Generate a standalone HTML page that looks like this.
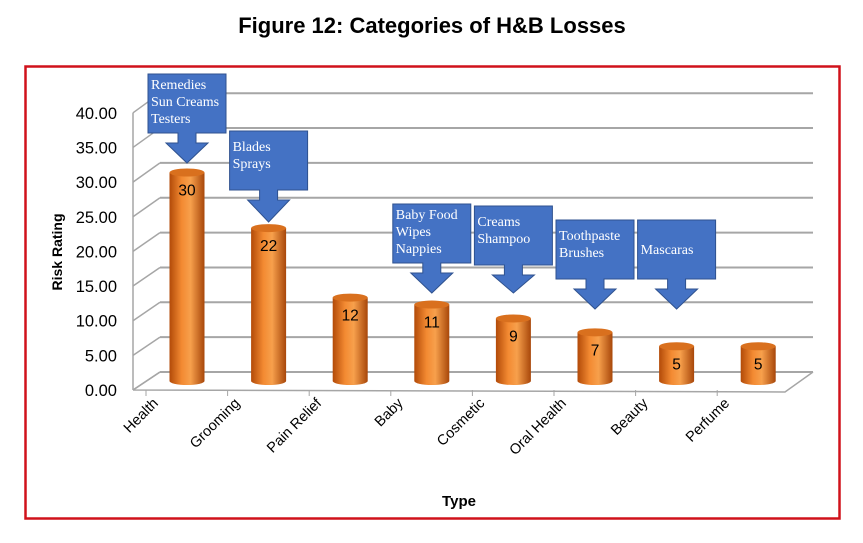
<!DOCTYPE html>
<html><head><meta charset="utf-8"><style>
body{margin:0;background:#fff;}
svg{display:block;font-family:"Liberation Sans",sans-serif;}
</style></head><body>
<svg id="c" width="863" height="543">
<text x="432" y="33" text-anchor="middle" font-size="22" font-weight="bold">Figure 12: Categories of H&amp;B Losses</text>
<rect x="25.5" y="66.5" width="814" height="452" fill="none" stroke="#d0121b" stroke-width="2.5"/>
<g id="grid"></g><g id="bars"></g><g id="calls"></g><g id="labels"></g>
<text transform="translate(62,252) rotate(-90)" text-anchor="middle" font-size="14" font-weight="bold">Risk Rating</text>
<text x="459" y="506" text-anchor="middle" font-size="15" font-weight="bold">Type</text>
</svg>
<script>
const categories=["Health","Grooming","Pain Relief","Baby","Cosmetic","Oral Health","Beauty","Perfume"];
const values=[30,22,12,11,9,7,5,5];
const ticks=[0,5,10,15,20,25,30,35,40];
const callouts=[["Remedies","Sun Creams","Testers"],["Blades","Sprays"],null,["Baby Food","Wipes","Nappies"],["Creams","Shampoo"],["Toothpaste","Brushes"],["Mascaras"],null];
// annotation placement (box top / arrow tip, px) – layout, not data
const calloutTop=[74,131,0,204,206,220,220,0];
const calloutTip=[163,222,0,293,293,309,309,0];
const NS="http://www.w3.org/2000/svg";
function mk(t,a,p){const e=document.createElementNS(NS,t);for(const k in a)e.setAttribute(k,a[k]);p.appendChild(e);return e;}
const yFront=v=>390-v*6.93, yBack=v=>372-v*6.97, yMid=v=>381-v*6.95;
const xC=i=>187+i*81.6;
const g=document.getElementById('grid');
ticks.forEach(t=>{
 const l=mk('line',{x1:160,x2:813,y1:yBack(t),y2:yBack(t),stroke:'#a6a6a6','stroke-width':2},g);
 
 const s=mk('line',{x1:133,x2:160,y1:yFront(t),y2:yBack(t),stroke:'#a6a6a6','stroke-width':1.5},g);
 
 const tk=mk('text',{x:117,y:yFront(t)+6,'text-anchor':'end','font-size':16.5},g);
 tk.textContent=t.toFixed(2);
 
});
const ax=mk('line',{x1:133,y1:yFront(0),x2:133,y2:yFront(40),stroke:'#a6a6a6','stroke-width':1.5},g);

const fl=mk('path',{d:`M133 ${yFront(0)} L785 ${yFront(0)+2} L813 ${yBack(0)} M133 ${yFront(0)} L160 ${yBack(0)}`,fill:'none',stroke:'#a6a6a6','stroke-width':1.5},g);

const defs=mk('defs',{},g);
const lg=mk('linearGradient',{id:'cyl',x1:0,x2:1,y1:0,y2:0},defs);
[['0','#b24a08'],['0.35','#f38a32'],['0.6','#f7a04c'],['1','#a8470a']].forEach(s=>mk('stop',{offset:s[0],'stop-color':s[1]},lg));
const bg=document.getElementById('bars'),cg=document.getElementById('calls'),lb=document.getElementById('labels');
categories.forEach((c,i)=>{
 const x=xC(i),v=values[i],w=35,top=yMid(v),bot=yMid(0);
 const b=mk('path',{d:`M${x-w/2} ${top} L${x-w/2} ${bot} A${w/2} 4 0 0 0 ${x+w/2} ${bot} L${x+w/2} ${top} Z`,fill:'url(#cyl)'},bg);
 
 const e=mk('ellipse',{cx:x,cy:top,rx:w/2,ry:4,fill:'#d9701e'},bg);
 
 const vl=mk('text',{x:x,y:top+23,'text-anchor':'middle','font-size':15.5},bg);
 vl.textContent=v;
 const tx=x-28,ty=404;
 const xl=mk('text',{transform:`translate(${tx},${ty}) rotate(-45)`,'text-anchor':'end','font-size':14.5},lb);
 xl.textContent=c;
 const tm=mk('line',{x1:x-41,x2:x-41,y1:390,y2:396,stroke:'#a6a6a6'},lb);
 
 const co=callouts[i];
 if(co){
  const boxTop=calloutTop[i], tip=calloutTip[i], boxBottom=boxTop+59, headY=boxBottom+10;
  const L=x-39,R=x+39;
  const p=mk('path',{d:`M${L} ${boxTop} H${R} V${boxBottom} H${x+9} V${headY} H${x+21} L${x} ${tip} L${x-21} ${headY} H${x-9} V${boxBottom} H${L} Z`,fill:'#4472c4',stroke:'#2f528f','stroke-width':1},cg);
  
  co.forEach((t,k)=>{
   const tt=mk('text',{x:L+3,y:boxTop+15+k*17+(co.length===1?19:(co.length===2?5:0)),fill:'#fff','font-size':14,'font-family':'"Liberation Serif",serif'},cg);
   tt.textContent=t;
  });
 }
});
</script>
</body></html>
